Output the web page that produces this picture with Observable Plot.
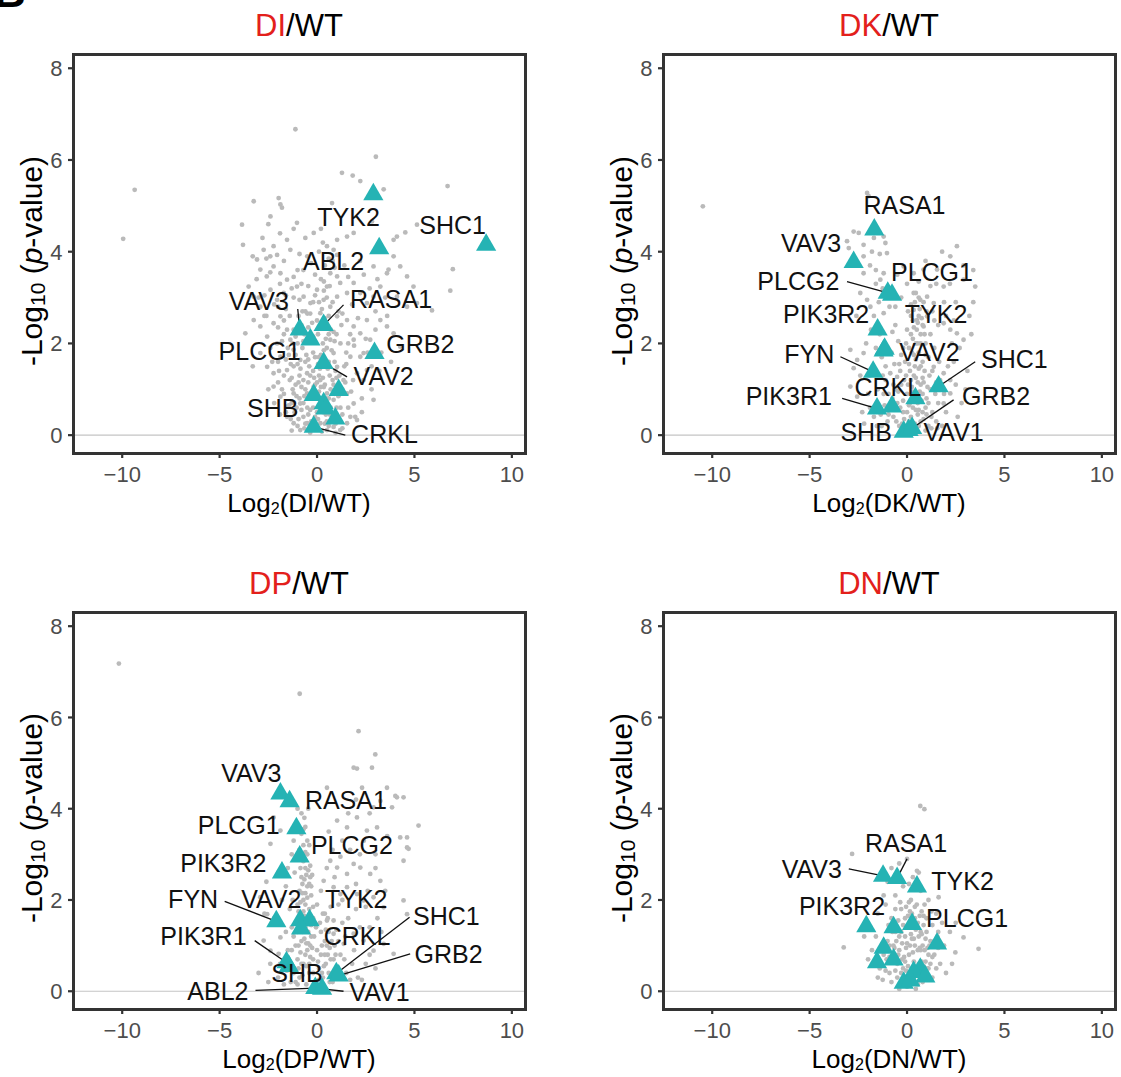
<!DOCTYPE html>
<html><head><meta charset="utf-8">
<script src="https://cdn.jsdelivr.net/npm/d3@7"></script>
<script src="https://cdn.jsdelivr.net/npm/@observablehq/plot@0.6"></script>
<style>
body{margin:0;background:#fff;font-family:'Liberation Sans',Arial,Helvetica,sans-serif;}
#root{position:relative;width:1121px;height:1077px;overflow:hidden;background:#fff;}
.ttl{position:absolute;font-size:31px;line-height:31px;text-align:center;color:#000;white-space:nowrap;}
.ttl .r{color:#e3201b;}
.xt{position:absolute;font-size:26px;line-height:26px;text-align:center;color:#000;white-space:nowrap;}
.yt{position:absolute;font-size:30px;line-height:30px;color:#000;white-space:nowrap;transform:translate(-50%,-50%) rotate(-90deg);}
.sub{font-size:0.62em;vertical-align:-0.12em;}
.yt .sub{font-size:0.7em;vertical-align:-0.15em;}
.panelletter{position:absolute;left:-6px;top:-33px;font-size:44px;font-weight:bold;}
</style></head><body><div id="root"><div class="panelletter">B</div></div>
<script>
// ---------- DI / WT ----------
const diNames = ["TYK2","ABL2","SHC1","RASA1","VAV3","PLCG1","GRB2","VAV2","SHB","CRKL","","","",""];
const diTriX  = [2.89, 3.19, 8.68, 0.34, -0.89, -0.34, 2.95, 0.34, -0.17, -0.17, 1.11, 0.34, 0.43, 0.94];
const diTriY  = [5.25, 4.07, 4.15, 2.40, 2.30, 2.08, 1.79, 1.57, 0.87, 0.18, 0.98, 0.69, 0.58, 0.36];
const diBg = [
[-9.36,5.35],[-9.95,4.28],[-1.11,6.67],[3.02,6.07],[1.28,5.72],[1.83,5.66],[6.70,5.43],[3.42,5.36],[6.97,3.62],[6.84,3.15],[5.90,2.72],[4.62,3.46],[4.53,4.42],[4.10,4.33],[-1.97,5.17],[-1.88,5.03],[-3.25,5.10],[-3.85,4.59],[-3.80,4.15],[-1.03,4.63],[-3.68,2.22],[0.77,5.06],[2.82,4.66],[3.93,3.90],[3.67,3.61],[4.95,3.24],[2.90,0.77],[1.96,0.40],[2.39,1.79],[1.88,2.08],
[2.22,5.54],[-1.80,4.96],[-2.39,4.77],[-0.17,4.41],[1.03,4.26],[1.54,4.33],[1.88,4.41],[5.13,4.59],[3.93,4.26],[-2.74,4.04],[-2.23,4.12],[-2.05,3.93],[-1.54,4.26],[-1.37,4.04],[0.51,4.12],[0.85,4.04],[1.03,3.93],[-3.08,3.83],[-2.91,3.61],[-2.58,3.46],[-2.23,3.68],[-1.88,3.53],[-1.54,3.39],[0.68,3.53],[1.03,3.46],[1.19,3.32],[0.51,3.24],[2.90,3.68],[3.59,3.53],[4.27,3.68],[-3.51,3.24],[-3.25,3.02],[-2.91,2.80],[-2.39,3.17],[-2.05,2.95],[-1.71,3.10],[-1.03,3.24],[-0.69,3.02],[-0.34,2.88],[0,3.17],[0.34,2.95],[0.68,2.80],[1.03,3.02],[1.54,3.10],[1.88,3.32],[2.22,3.10],[2.56,2.88],[2.90,3.02],[3.25,3.24],[4.10,3.02],[4.62,2.80],[5.13,2.88],
[-3.25,2.51],[-2.91,2.37],[-2.56,2.15],[-2.23,2.44],[-2.05,2.0],[-1.88,2.59],[-1.54,2.30],[-1.37,2.08],[0.17,2.66],[0.51,2.37],[0.68,2.08],[1.03,2.59],[1.54,2.51],[1.88,2.37],[2.22,2.22],[2.56,2.51],[2.73,2.08],[3.59,2.37],[3.93,2.22],[4.27,1.93],[3.25,2.51],
[-2.91,1.79],[-2.56,1.49],[-2.23,1.35],[-1.88,1.71],[-1.54,1.42],[-1.20,1.86],[-0.86,1.64],[-0.51,1.35],[0.85,1.79],[1.03,1.49],[1.36,1.20],[1.71,1.71],[2.05,1.35],[2.22,1.71],[2.39,1.20],[2.56,1.42],
[-2.23,1.06],[-1.88,0.84],[-1.54,0.62],[-1.20,0.91],[-0.86,0.69],[-0.51,0.91],[-0.17,1.06],[0.17,1.20],[0.51,0.91],[0.85,0.77],[1.54,0.91],[1.88,0.69],[2.05,0.33],[1.71,0.40],
[-1.54,0.40],[-1.20,0.26],[-0.86,0.11],[-0.51,0.26],[0.17,0.26],[0.51,0.11],[0.85,0.18],[1.19,0.11],[1.54,0.26],
[-1.6,0.5],[-1.3,0.7],[-1.1,1.1],[-0.9,1.3],[-0.7,0.4],[-0.5,0.6],[-0.4,1.5],[-0.3,0.9],[-0.2,1.8],[0.0,0.5],[0.1,1.3],[0.2,0.8],[0.3,2.0],[0.4,1.1],[0.5,0.3],[0.6,1.6],[0.7,0.6],[0.8,1.2],[0.9,0.4],[1.0,2.2],[-1.0,2.0],[-0.8,2.4],[-0.6,2.7],[-0.4,2.2],[-0.2,2.9],[0.0,2.5],[0.2,3.4],[0.4,3.7],[0.5,3.0],[0.6,2.6],[0.8,3.8],[1.1,2.7],[1.3,1.0],[1.4,1.5],[1.6,2.0],[-1.8,1.0],[-2.0,1.6],[-2.2,0.7],[-1.4,2.6],[-1.2,3.0],[-1.0,3.6],[-0.8,3.3],[-0.5,3.9],[0.1,4.0],[0.3,4.2],[-1.7,1.3],[-1.5,1.9],[-1.2,1.5],[-0.9,0.8],[-0.6,1.0],[-0.3,0.3],[-0.1,1.1],[0.1,1.7],[0.3,0.5],[0.5,1.9],[0.7,2.3],[0.9,0.9],[1.2,0.6],[-2.5,1.0],[-2.7,2.6],[-3.0,3.0],[-2.4,3.9],[-3.3,1.5],[2.8,1.0],[3.2,1.4],[2.6,1.8],[3.0,2.7],[3.5,3.0],[3.8,1.6],
[-2.8,4.3],[-1.9,4.4],[-1.2,4.5],[-0.6,4.3],[0.2,4.5],[-2.5,4.6],
[-3.3,3.9],[-2.6,3.85],[-1.7,3.8],[-0.9,3.95],[-0.3,3.75],[0.6,3.85],[1.4,3.7],[2.2,3.8],
[-3.1,3.4],[-2.4,3.55],[-1.9,3.3],[-1.2,3.45],[-0.7,3.6],[-0.1,3.5],[0.35,3.35],[0.9,3.65],[1.6,3.45],[2.4,3.5],[3.1,3.4],
[-2.7,3.05],[-2.2,2.85],[-1.6,2.75],[-1.3,3.2],[-0.9,2.95],[-0.5,2.65],[-0.1,3.05],[0.25,2.75],[0.8,2.9],[1.3,2.65],[1.8,2.85],[2.7,3.2],[3.6,2.6],
[-2.6,2.6],[-2.0,2.35],[-1.7,2.5],[-1.2,2.3],[-0.95,2.6],[-0.65,2.2],[-0.25,2.45],[0.05,2.2],[0.4,2.55],[0.85,2.25],[1.25,2.4],[1.7,2.2],[2.1,2.55],[3.0,2.3],
[-2.4,1.9],[-1.8,2.05],[-1.45,1.75],[-1.1,2.15],[-0.75,1.9],[-0.45,1.65],[-0.1,2.05],[0.2,1.75],[0.45,2.1],[0.75,1.85],[1.2,2.0],[1.5,1.8],[1.9,1.95],[2.5,2.1],[3.3,1.8],
[-2.3,1.6],[-1.95,1.4],[-1.6,1.65],[-1.3,1.25],[-1.0,1.55],[-0.7,1.2],[-0.55,1.75],[-0.2,1.4],[0.05,1.55],[0.3,1.25],[0.55,1.45],[0.9,1.6],[1.15,1.3],[1.5,1.55],[1.85,1.2],[2.8,1.5],
[-2.0,1.15],[-1.7,0.9],[-1.4,1.2],[-1.05,0.85],[-0.8,1.05],[-0.4,0.8],[-0.15,1.25],[0.1,0.95],[0.35,1.05],[0.6,0.8],[0.85,1.1],[1.1,0.85],[1.45,1.15],[1.75,0.95],[2.3,0.8],
[-1.9,0.45],[-1.45,0.65],[-1.15,0.5],[-0.95,0.35],[-0.7,0.7],[-0.45,0.45],[-0.2,0.6],[0.05,0.35],[0.25,0.65],[0.45,0.45],[0.7,0.3],[1.0,0.6],[1.3,0.45],[1.6,0.6],[2.3,0.5],
[-1.3,0.1],[-1.0,0.2],[-0.65,0.15],[-0.35,0.05],[-0.05,0.2],[0.25,0.08],[0.6,0.2],[0.95,0.05],[1.3,0.15],
[-1.35,0.35],[-1.05,0.6],[-0.8,0.55],[-0.6,0.25],[-0.35,0.55],[-0.1,0.4],[0.15,0.55],[0.4,0.25],[0.65,0.45],[0.95,0.25],[-1.25,1.0],[-0.95,1.15],[-0.65,0.85],[-0.45,1.15],[-0.25,0.85],[0.0,1.15],[0.2,1.05],[0.45,0.8],[0.7,1.0],[1.0,1.25],[-1.35,1.55],[-1.1,1.75],[-0.85,1.45],[-0.6,1.6],[-0.35,1.3],[-0.1,1.7],[0.15,1.45],[0.4,1.6],[0.65,1.3],[0.95,1.4],[-1.25,2.0],[-0.95,2.3],[-0.7,2.05],[-0.45,2.35],[-0.2,2.15],[0.1,2.35],[0.35,1.85],[0.6,2.2],[0.9,2.05],[-0.75,2.7],[-0.35,2.65],[0.1,2.9],[0.35,3.15],[0.65,3.25],[-0.45,3.25],[-1.7,2.2],[-2.0,2.8],[-1.6,3.05]
];
// label placement (as laid out by the repel step) and leader starts
const diLabX  = [1.62, 0.85, 6.96, 3.80, -2.99, -2.95, 5.30, 3.42, -2.27, 3.46];
const diLabY  = [4.74, 3.77, 4.55, 2.95, 2.90, 1.82, 1.97, 1.26, 0.58, 0.0];
const diLeadX = [null, null, null, 1.36, -0.99, null, null, 1.54, null, 1.45];
const diLeadY = [null, null, null, 2.84, 2.75, null, null, 1.27, null, 0.0];

// ---------- DK / WT ----------
const dkNames = ["RASA1","VAV3","PLCG1","PLCG2","PIK3R2","VAV2","TYK2","FYN","SHC1","CRKL","PIK3R1","SHB","VAV1","GRB2",""];
const dkTriX  = [-1.68, -2.74, -0.77, -0.99, -1.51, -1.20, -1.15, -1.74, 1.62, 0.43, -1.54, -0.17, 0.08, 0.26, -0.77];
const dkTriY  = [4.48, 3.77, 3.06, 3.10, 2.30, 1.84, 1.88, 1.38, 1.06, 0.80, 0.58, 0.07, 0.11, 0.15, 0.62];
const dkBg = [
[-10.48,4.99],[-2.05,5.28],[-1.97,5.21],[-2.74,4.44],[-2.48,4.41],[-3.08,4.23],[-2.99,4.08],[-2.23,4.15],[-1.2,4.33],[-1.11,4.19],[-1.03,3.97],[2.56,4.12],[2.22,3.90],[-2.23,3.90],[-2.23,3.53],[-1.2,3.53],[-1.37,3.39],[-0.17,3.68],[0.34,3.53],[0.85,3.61],[1.54,3.61],[3.50,3.24],[2.90,3.39],[1.88,3.24],[0.34,3.10],[0.68,2.95],[1.03,3.02],[1.37,2.88],[-2.05,2.95],[-1.88,2.80],[-1.2,2.66],[0.34,2.73],[0.51,2.51],[0.85,2.37],[1.03,2.59],[1.88,2.44],[2.22,2.30],[2.56,2.22],[2.90,2.08],[-2.91,1.86],[-2.23,1.79],[-2.56,1.64],[-2.74,1.46],[-0.86,1.35],[-0.51,1.27],[1.37,1.49],[1.88,1.35],[2.22,1.20],[-2.91,1.06],[-2.56,0.84],[2.22,0.91],[1.88,0.69],
[0.1,0.3],[0.3,0.6],[0.5,0.9],[0.2,1.2],[0.4,1.5],[0.6,1.8],[0.3,2.1],[0.5,2.3],[0.7,1.1],[0.8,0.5],[0.9,1.4],[1.0,0.8],[0.0,0.9],[-0.1,1.6],[-0.2,0.5],[-0.3,1.1],[-0.4,0.2],[-0.5,0.7],[-0.6,1.0],[-0.7,0.4],[-0.9,0.6],[-1.0,0.3],[-1.2,0.9],[-1.3,0.2],[-1.5,1.0],[-1.7,0.4],[1.1,0.2],[1.2,1.0],[1.3,0.5],[1.5,0.3],[1.6,0.7],[1.8,0.2],[2.0,0.5],[0.1,1.9],[0.2,2.6],[0.4,2.9],[0.6,2.6],[0.7,2.0],[0.9,2.2],[1.1,1.7],[0.0,2.3],[-0.2,1.9],[0.3,0.1],[0.6,0.2],[-0.1,0.1],[0.8,1.6],[0.45,1.25],[0.15,0.7],[0.55,0.45],[0.35,1.75],[0.75,0.75],[-0.35,1.4],[-0.8,1.8],[-1.1,1.5],[1.4,1.9],[1.7,1.2],[2.4,1.6],[2.6,0.4],[3.0,1.0],[-2.0,0.9],[-2.3,0.5],[-1.9,1.3],[-0.6,2.4],[-0.9,2.8],[-1.4,2.2],[-1.6,3.6],[-1.8,4.0],[-0.3,3.0],[0.0,3.3],[1.5,3.3],[2.0,2.6],[2.5,2.9],[3.2,2.6],[3.4,3.6],
[0.2,0.4],[0.4,0.25],[0.6,0.55],[0.85,0.35],[0.1,0.65],[0.35,0.85],[0.65,0.95],[0.95,0.6],[0.25,1.05],[0.55,1.15],[0.8,1.25],[1.05,1.05],[0.15,1.4],[0.45,1.65],[0.7,1.5],[0.95,1.75],[0.25,1.8],[0.55,2.0],[0.8,2.4],[0.35,2.35],[0.65,2.75],[0.45,3.1],[0.85,2.9],[0.05,2.7],[1.2,2.2],[1.3,1.4],[1.45,0.9],[1.65,1.6],[1.25,0.4],[1.55,0.15],
[-0.15,0.35],[-0.35,0.6],[-0.55,0.3],[-0.75,0.8],[-0.95,0.45],[-1.15,0.65],[-1.35,0.45],[-1.1,1.2],[-0.65,1.55],[-0.3,1.75],[-0.05,1.3],[-0.45,2.05],[-0.75,2.25],[-1.3,1.7],[-1.6,1.9],[-1.85,2.3],[-1.7,2.6],[-1.45,2.9],[-1.25,3.2],[-1.6,3.3],[-1.9,3.7],[-1.4,3.95],[-1.7,4.3],[-2.4,3.1],[-2.6,2.6],[-2.1,2.0],[-2.4,1.3],[-1.9,0.6],[-2.2,0.25],[-1.55,0.2],
[1.9,0.9],[2.1,1.5],[2.3,2.0],[1.6,2.4],[1.3,2.7],[1.9,2.9],[2.4,2.5],[2.7,1.9],[2.5,1.1],[2.8,0.7],[3.1,1.4],[3.3,2.2],[2.2,3.3],[1.2,3.25],[0.6,3.35],[-0.5,3.5],[-0.8,3.2],[-0.6,2.8],[0.95,3.8],[1.8,4.0],[2.9,3.7],[3.4,2.9],
[-0.25,0.25],[0.0,0.5],[0.25,0.2],[0.45,0.55],[0.7,0.3],[1.0,0.45],[-0.45,0.95],[-0.2,0.75],[0.05,1.1],[0.3,0.95],[0.55,0.7],[0.8,0.9],[1.1,0.7],[-0.15,1.2],[0.1,1.55],[0.35,1.3],[0.6,1.45],[0.85,1.15],[1.15,1.3],[-0.05,2.0],[0.2,2.2],[0.45,2.0],[0.7,2.2],[0.95,2.0],[0.3,2.5],[0.55,2.45],[0.75,2.55],[0.2,2.85],[0.6,3.0],[1.0,2.7],[1.4,2.5],[1.5,1.15],[-0.7,1.1],[-0.95,0.9],[-1.25,1.3],[-0.4,1.55],[1.25,0.15],[0.95,0.1]
];
const dkLabX  = [-0.13, -4.93, 1.28, -5.58, -4.15, 1.15, 1.49, -5.02, 5.51, -0.99, -6.07, -2.10, 2.39, 4.57];
const dkLabY  = [4.99, 4.17, 3.53, 3.35, 2.62, 1.79, 2.62, 1.75, 1.64, 1.02, 0.84, 0.04, 0.04, 0.84];
const dkLeadX = [null, null, null, -3.08, null, null, null, -3.42, 3.50, null, -3.33, null, null, 2.39];
const dkLeadY = [null, null, null, 3.35, null, null, null, 1.71, 1.60, null, 0.80, null, null, 0.77];

// ---------- DP / WT ----------
const dpNames = ["VAV3","RASA1","PLCG1","PLCG2","PIK3R2","FYN","VAV2","TYK2","CRKL","PIK3R1","SHB","SHC1","GRB2","ABL2","VAV1"];
const dpTriX  = [-1.88, -1.41, -1.06, -0.89, -1.80, -2.09, -0.86, -0.38, -0.82, -1.57, -1.45, 0.99, 1.11, -0.09, 0.26];
const dpTriY  = [4.33, 4.16, 3.57, 2.95, 2.60, 1.53, 1.55, 1.55, 1.37, 0.63, 0.55, 0.39, 0.34, 0.07, 0.05];
const dpBg = [
[-10.17,7.18],[-0.89,6.52],[2.13,5.70],[2.99,5.19],[1.88,4.90],[2.05,4.88],[2.82,4.90],[5.21,3.63],[4.62,3.37],[4.70,3.12],[4.44,4.25],[4.10,4.25],[3.59,4.46],[2.31,4.46],[0.51,4.46],[3.25,4.17],[2.90,4.03],[4.02,4.28],[3.85,4.03],[1.03,3.74],[1.54,3.59],[2.05,3.81],[2.56,3.52],[3.08,3.59],[-2.23,3.81],[-1.88,3.52],[-2.39,3.23],[4.27,3.37],[4.62,3.15],[4.44,2.86],[0.68,2.86],[1.03,2.71],[1.54,2.57],[1.88,2.79],[2.22,2.71],[2.73,2.57],[3.25,2.42],[0.34,2.42],[0.85,2.28],[1.20,2.13],[1.54,2.28],[2.05,2.13],[2.39,1.99],[2.90,2.06],[3.42,1.84],[4.44,1.99],[4.62,1.69],[-2.91,2.06],[-2.56,1.69],[-1.88,1.18],[-2.74,1.11],[-2.39,0.89],[-1.97,0.82],[0.51,1.55],[0.85,1.26],[1.37,1.04],[1.88,1.26],[2.39,1.11],[2.90,0.89],[3.42,1.04],[3.93,0.82],
[-0.9,0.3],[-0.7,0.6],[-0.5,0.9],[-0.8,1.1],[-0.6,1.4],[-0.4,1.8],[-0.7,2.0],[-0.5,2.3],[-0.8,2.5],[-0.6,2.7],[-0.4,0.4],[-0.3,1.2],[-0.2,0.7],[-0.1,0.2],[0.0,0.9],[0.1,0.5],[0.2,1.3],[0.3,0.3],[0.4,0.8],[0.5,1.0],[0.6,0.4],[0.7,0.7],[0.8,0.2],[1.0,0.5],[-1.0,0.7],[-1.1,1.0],[-1.2,0.4],[-1.3,1.4],[-1.5,0.9],[-1.7,0.5],[-2.0,0.3],[-1.0,1.9],[-0.9,2.2],[-0.7,3.2],[-0.6,3.6],[-0.8,3.9],[-0.5,3.0],[-0.3,2.1],[-0.2,1.6],[0.0,1.9],[0.2,2.2],[0.4,1.7],[0.6,1.3],[0.9,1.0],[1.2,0.8],[1.5,0.4],[1.8,0.6],[2.1,0.3],[2.5,0.6],[-0.65,1.65],[-0.55,0.15],[-0.35,2.5],[-0.45,1.05],[0.15,0.1],[-2.4,0.6],[-3.0,0.4],[-1.4,1.8],[-1.6,2.3],[1.1,1.9],[1.6,1.6],[2.0,1.8],[2.7,1.4],[3.1,1.6],[0.8,3.1],[1.3,3.3],[2.4,3.3],[3.0,3.0],[-1.3,3.0],[-2.6,2.4],
[-0.95,0.5],[-0.75,0.35],[-0.55,0.55],[-0.35,0.75],[-0.85,0.85],[-0.65,1.15],[-0.45,1.3],[-0.25,0.95],[-0.9,1.5],[-0.7,1.75],[-0.5,1.6],[-0.3,1.45],[-0.85,1.95],[-0.6,2.15],[-0.4,2.35],[-0.75,2.35],[-0.55,2.55],[-0.35,2.75],[-0.7,2.85],[-0.5,3.3],[-0.8,3.45],[-0.65,3.8],[-0.45,4.0],[-1.0,4.0],[-1.2,3.3],[-1.15,2.6],[-1.25,2.0],[-1.2,1.2],[-1.4,0.6],[-1.1,0.2],
[0.1,0.25],[0.35,0.55],[0.55,0.8],[0.25,1.0],[0.75,1.1],[0.45,1.35],[1.0,1.35],[0.3,1.7],[0.7,1.85],[1.3,1.5],[1.1,1.1],[1.4,0.7],[1.7,0.25],[1.9,0.9],[2.2,1.4],[2.5,1.85],[2.0,2.35],[1.3,2.0],[0.9,2.5],[0.5,2.7],[1.2,2.95],[1.7,3.1],[2.2,3.0],[2.6,2.2],[3.0,2.7],[3.5,2.2],[3.3,1.3],[2.7,0.8],[2.3,0.25],[3.0,0.5],[0.6,3.5],[1.6,3.9],[2.0,4.2],[2.7,3.9],[3.6,3.4],
[-1.6,1.3],[-1.9,0.6],[-2.2,1.6],[-1.8,2.0],[-1.5,2.7],[-2.0,2.6],[-2.7,1.7],[-1.3,0.9],[-1.7,0.15],[-2.5,0.2],
[-1.0,0.15],[-0.8,0.6],[-0.6,0.8],[-0.4,0.6],[-0.2,0.4],[-0.95,1.0],[-0.75,1.3],[-0.55,1.05],[-0.35,1.0],[-0.15,1.2],[-1.0,1.3],[-0.8,1.65],[-0.6,1.9],[-0.4,1.55],[-0.2,1.85],[-0.95,1.75],[-0.75,2.15],[-0.5,2.05],[-0.3,2.3],[-0.85,2.7],[-0.65,2.45],[-0.45,2.65],[-0.25,2.55],[-0.6,3.05],[-0.9,3.1],[-0.4,3.2],[-0.7,3.55],[0.05,0.65],[0.25,0.4],[0.45,0.6],[0.65,0.2],[0.85,0.7],[0.2,0.8],[0.4,1.1],[0.65,0.95],[0.95,0.8],[1.2,0.35],[1.45,1.2],[0.15,1.5],[0.55,1.6],[0.85,1.55],[-0.05,1.4],[-1.3,0.5],[-1.55,0.45],[-1.35,0.2]
];
const dpLabX  = [-3.37, 1.48, -4.02, 1.79, -4.81, -6.36, -2.35, 2.01, 2.05, -5.83, -1.03, 6.64, 6.75, -5.09, 3.21];
const dpLabY  = [4.76, 4.17, 3.63, 3.19, 2.79, 1.99, 1.99, 1.99, 1.18, 1.18, 0.38, 1.62, 0.80, -0.02, -0.04];
const dpLeadX = [null, null, null, null, null, -4.74, null, null, null, -3.20, null, 4.75, 4.78, -3.16, 1.36];
const dpLeadY = [null, null, null, null, null, 1.97, null, null, null, 1.11, null, 1.62, 0.82, 0.02, 0.0];

// ---------- DN / WT ----------
const dnNames = ["VAV3","RASA1","TYK2","PIK3R2","PLCG1","","","","","","","","","",""];
const dnTriX  = [-1.23, -0.51, 0.51, -2.09, 0.26, -0.69, 1.54, -1.20, -1.54, -0.69, 0.68, 0.34, 0.94, -0.17, 0.17];
const dnTriY  = [2.53, 2.48, 2.29, 1.42, 1.47, 1.40, 1.04, 0.95, 0.63, 0.69, 0.49, 0.42, 0.32, 0.18, 0.23];
const dnBg = [
[0.68,4.06],[0.89,3.99],[-2.82,3.01],[-3.25,0.96],[3.67,0.93],[2.90,1.18],[2.48,0.85],[2.31,0.60],[1.62,2.06],[0.51,2.64],
[-1.4,0.5],[-1.2,0.8],[-1.0,1.1],[-0.9,0.4],[-0.8,1.6],[-0.7,0.7],[-0.6,1.3],[-0.5,0.3],[-0.4,0.9],[-0.3,1.8],[-0.2,0.5],[-0.1,1.2],[0.0,0.1],[0.1,0.8],[0.2,1.5],[0.3,0.4],[0.4,1.0],[0.5,1.9],[0.6,0.6],[0.7,1.3],[0.8,0.2],[0.9,0.9],[1.0,1.6],[1.1,0.5],[1.2,1.1],[1.3,0.3],[1.4,0.8],[1.6,1.3],[1.7,0.6],[1.9,1.0],[-1.6,1.2],[-1.8,0.9],[-1.1,1.9],[-0.6,2.1],[-0.2,2.3],[0.2,2.0],[0.3,2.5],[0.7,2.2],[1.1,2.0],[1.5,1.7],[-0.45,1.55],[-0.15,0.75],[0.15,0.35],[0.45,1.35],[0.65,0.95],[0.85,1.45],[-0.35,0.15],[0.05,1.65],[0.35,0.65],[-0.65,0.95],[-0.05,0.45],[0.55,0.15],[0.95,0.65],[-0.95,1.45],[-1.25,0.25],[1.25,1.75],[0.25,1.15],[-0.25,1.05],[0.75,1.75],[1.05,0.95],[-1.5,1.7],[-2.2,1.2],[2.2,1.3],[2.0,0.4],[-0.8,2.7],[-0.4,2.8],[0.0,2.9],[-1.0,2.4],[0.1,1.95],[-2.0,0.7],
[-0.3,0.4],[-0.1,0.65],[0.1,0.3],[0.3,0.85],[0.5,0.5],[0.7,0.9],[0.9,0.35],[1.1,0.8],[-0.5,0.6],[-0.7,1.0],[-0.4,1.2],[-0.2,1.45],[0.0,1.05],[0.2,1.25],[0.4,1.6],[0.6,1.2],[0.8,1.0],[1.0,1.3],[1.2,0.6],[1.4,1.1],[-0.9,0.75],[-1.1,0.45],[-0.6,1.8],[-0.35,1.95],[-0.05,1.85],[0.25,1.7],[0.55,1.5],[0.9,1.9],[1.3,1.45],[1.6,0.95],[1.8,1.5],[-1.3,1.0],[-1.5,0.3],[-0.8,0.2],[-0.1,0.25],[0.45,0.05],[0.85,0.55],[1.5,0.5],[2.5,1.5],[-1.2,2.1],[-0.5,2.5],[0.1,2.35],[0.6,2.6],
[-0.15,0.2],[0.05,0.55],[0.2,0.15],[0.35,0.3],[0.6,0.35],[0.75,0.65],[1.0,0.5],[-0.45,0.8],[-0.25,0.7],[-0.05,0.95],[0.15,1.0],[0.35,1.15],[0.55,0.9],[0.75,1.25],[0.95,1.15],[1.15,1.0],[-0.55,1.1],[-0.3,1.3],[-0.1,1.6],[0.15,1.75],[0.4,1.85],[0.65,1.65],[0.85,1.65],[-0.75,1.3],[-0.9,1.0],[-1.05,0.7],[-0.6,0.45],[-0.4,0.05],[1.3,0.75],[1.55,1.2]
];
const dnLabX  = [-4.89, -0.05, 2.85, -3.34, 3.08];
const dnLabY  = [2.66, 3.23, 2.39, 1.84, 1.58];
const dnLeadX = [-2.99, 0.0, null, null, null];
const dnLeadY = [2.68, 2.90, null, null, null];

// axis tick values
const xTicks = [-10, -5, 0, 5, 10];
const yTicks = [0, 2, 4, 6, 8];

const panels = [
  {key:"DI", names:diNames, tx:diTriX, ty:diTriY, bg:diBg, lx:diLabX, ly:diLabY, sx:diLeadX, sy:diLeadY,
   left:0, top:40, w:590, h:500, mr:65, mb:87},
  {key:"DK", names:dkNames, tx:dkTriX, ty:dkTriY, bg:dkBg, lx:dkLabX, ly:dkLabY, sx:dkLeadX, sy:dkLeadY,
   left:590, top:40, w:531, h:500, mr:6, mb:87},
  {key:"DP", names:dpNames, tx:dpTriX, ty:dpTriY, bg:dpBg, lx:dpLabX, ly:dpLabY, sx:dpLeadX, sy:dpLeadY,
   left:0, top:598, w:590, h:479, mr:65, mb:68},
  {key:"DN", names:dnNames, tx:dnTriX, ty:dnTriY, bg:dnBg, lx:dnLabX, ly:dnLabY, sx:dnLeadX, sy:dnLeadY,
   left:590, top:598, w:531, h:479, mr:6, mb:68}
];

const FONT = "'Liberation Sans', Arial, Helvetica, sans-serif";
const ML = 73, MT = 14;
const XDOM = [-12.5, 10.7], YDOM = [-0.4, 8.3];
const root = document.getElementById("root");
const minus = d => d < 0 ? "\u2212" + (-d) : String(d);

for (const p of panels) {
  const tri = p.names.map((n, i) => ({name: n, x: p.tx[i], y: p.ty[i]}));
  const labs = p.names.map((n, i) => ({name: n, x: p.tx[i], y: p.ty[i], lx: p.lx[i], ly: p.ly[i], sx: p.sx[i], sy: p.sy[i]}))
                      .filter(d => d.name !== "");
  const leads = labs.filter(d => d.sx != null);
  const bg = p.bg.map(d => ({x: d[0], y: d[1]}));

  const svg = Plot.plot({
    width: p.w, height: p.h,
    marginLeft: ML, marginRight: p.mr, marginTop: MT, marginBottom: p.mb,
    x: {domain: XDOM},
    y: {domain: YDOM},
    style: {fontFamily: FONT, background: "white", overflow: "visible"},
    marks: [
      Plot.ruleY([0], {stroke: "#c4c4c4", strokeWidth: 1.2}),
      Plot.dot(bg, {x: "x", y: "y", r: 2.4, fill: "#bababa", stroke: "none"}),
      Plot.link(leads, {x1: "sx", y1: "sy", x2: "x", y2: "y", stroke: "#111", strokeWidth: 1.3}),
      Plot.dot(tri, {x: "x", y: "y", symbol: "triangle", r: 7.5, fill: "#25b3b4", stroke: "none"}),
      Plot.text(labs, {x: "lx", y: "ly", text: "name", fontSize: 25, fill: "#111", textAnchor: "middle"}),
      Plot.frame({stroke: "#333", strokeWidth: 3}),
      // tick marks from the axes, tick labels as text marks at the scale positions
      Plot.axisX({ticks: xTicks, tickFormat: () => "", tickSize: 5, stroke: "#333", strokeWidth: 2.2, label: null}),
      Plot.axisY({ticks: yTicks, tickFormat: () => "", tickSize: 5, stroke: "#333", strokeWidth: 2.2, label: null}),
      Plot.text(xTicks, {x: d => d, y: () => YDOM[0], text: minus, dy: 21, fontSize: 22, fill: "#4d4d4d", textAnchor: "middle"}),
      Plot.text(yTicks, {x: () => XDOM[0], y: d => d, text: d => String(d), dx: -11, dy: 1, fontSize: 22, fill: "#4d4d4d", textAnchor: "end"})
    ]
  });
  svg.style.position = "absolute";
  svg.style.left = p.left + "px";
  svg.style.top = p.top + "px";
  root.appendChild(svg);

  const frameL = p.left + ML, frameR = p.left + p.w - p.mr;
  const frameT = p.top + MT, frameB = p.top + p.h - p.mb;

  const t = document.createElement("div");
  t.className = "ttl";
  t.style.left = frameL + "px"; t.style.width = (frameR - frameL) + "px";
  t.style.top = (frameT - 44) + "px";
  t.innerHTML = `<span class="r">${p.key}</span>/WT`;
  root.appendChild(t);

  const xt = document.createElement("div");
  xt.className = "xt";
  xt.style.left = frameL + "px"; xt.style.width = (frameR - frameL) + "px";
  xt.style.top = (frameB + 37) + "px";
  xt.innerHTML = `Log<span class="sub">2</span>(${p.key}/WT)`;
  root.appendChild(xt);

  const yt = document.createElement("div");
  yt.className = "yt";
  yt.style.left = (p.left + 35) + "px";
  yt.style.top = ((frameT + frameB) / 2 + 7) + "px";
  yt.innerHTML = `-Log<span class="sub">10</span> (<i>p</i>-value)`;
  root.appendChild(yt);
}
</script></body></html>
